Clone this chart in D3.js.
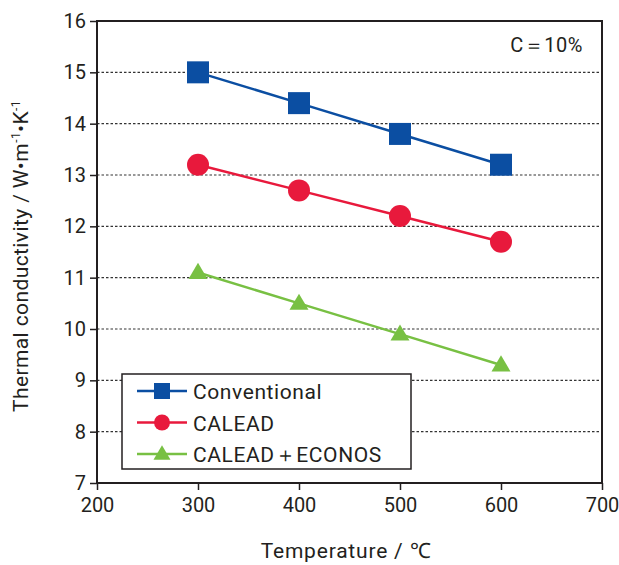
<!DOCTYPE html>
<html>
  <head>
    <style>
    body { margin: 0px; overflow: hidden; background: white; }
    text { font-family: Roboto, "Liberation Sans", sans-serif; fill: #231f20; }
    .tick text { font-size: 20px; }
    </style>
    <script src="https://d3js.org/d3.v7.min.js"></script>
  </head>
  <body>
    <svg width="619" height="565"></svg>
    <script>
        const temps = [300, 400, 500, 600];
        const conventional = [15.0, 14.4, 13.8, 13.2];
        const calead = [13.2, 12.7, 12.2, 11.7];
        const econos = [11.1, 10.5, 9.9, 9.3];
        const seriesNames = ['Conventional', 'CALEAD', 'CALEAD\uFF0BECONOS'];
        const xTicks = [200, 300, 400, 500, 600, 700];
        const yTicks = [7, 8, 9, 10, 11, 12, 13, 14, 15, 16];

        const svg = d3.select('svg');
        const margin = { top: 21, left: 97, right: 17, bottom: 82 };
        const innerWidth = 619 - margin.left - margin.right;
        const innerHeight = 565 - margin.top - margin.bottom;

        const g = svg.append('g')
            .attr('transform', `translate(${margin.left},${margin.top})`);

        const xScale = d3.scaleLinear().domain([200, 700]).range([0, innerWidth]);
        const yScale = d3.scaleLinear().domain([7, 16]).range([innerHeight, 0]);

        //dotted grid lines
        g.selectAll('.grid').data(yTicks.slice(1, -1))
            .enter().append('line')
                .attr('x1', 0).attr('x2', innerWidth)
                .attr('y1', d => yScale(d)).attr('y2', d => yScale(d))
                .attr('stroke', '#333').attr('stroke-width', 1.2)
                .attr('stroke-dasharray', '2.5,2');

        //frame
        g.append('rect')
            .attr('width', innerWidth).attr('height', innerHeight)
            .attr('fill', 'none').attr('stroke', '#231f20').attr('stroke-width', 2);

        //axes
        const xAxisG = g.append('g')
            .attr('transform', `translate(0,${innerHeight})`)
            .call(d3.axisBottom(xScale).tickValues(xTicks).tickSize(7).tickPadding(8));
        const yAxisG = g.append('g')
            .call(d3.axisLeft(yScale).tickValues(yTicks).tickSize(7).tickPadding(4));
        [xAxisG, yAxisG].forEach(a => {
            a.select('.domain').remove();
            a.selectAll('.tick line').attr('stroke', '#231f20').attr('stroke-width', 1.5);
            a.selectAll('.tick text').attr('fill', '#231f20');
        });

        const series = [
            { name: seriesNames[0], values: conventional, color: '#0b4ea2', shape: 'square' },
            { name: seriesNames[1], values: calead, color: '#e8193c', shape: 'circle' },
            { name: seriesNames[2], values: econos, color: '#78c043', shape: 'triangle' }
        ];

        function drawMarker(sel, shape, color, size) {
            if (shape === 'square') {
                sel.append('rect')
                    .attr('x', -size / 2).attr('y', -size / 2)
                    .attr('width', size).attr('height', size)
                    .attr('fill', color);
            } else if (shape === 'circle') {
                sel.append('circle').attr('r', size / 2).attr('fill', color);
            } else {
                const h = size * 0.85;
                sel.append('path')
                    .attr('d', `M0,${-h * 0.6}L${size / 2},${h * 0.4}L${-size / 2},${h * 0.4}Z`)
                    .attr('fill', color);
            }
        }

        const line = d3.line()
            .x((d, i) => xScale(temps[i]))
            .y(d => yScale(d));

        series.forEach(s => {
            g.append('path')
                .attr('d', line(s.values))
                .attr('fill', 'none')
                .attr('stroke', s.color)
                .attr('stroke-width', 2.5);
            s.values.forEach((v, i) => {
                const m = g.append('g')
                    .attr('transform', `translate(${xScale(temps[i])},${yScale(v)})`);
                drawMarker(m, s.shape, s.color, s.shape === 'triangle' ? 19 : 22);
            });
        });

        //legend
        const legend = svg.append('g').attr('transform', 'translate(122,374)');
        legend.append('rect')
            .attr('width', 289).attr('height', 95)
            .attr('fill', 'white').attr('stroke', '#231f20').attr('stroke-width', 1.5);
        series.forEach((s, i) => {
            const row = legend.append('g').attr('transform', `translate(0,${17 + i * 31.5})`);
            row.append('line')
                .attr('x1', 15).attr('x2', 65)
                .attr('stroke', s.color).attr('stroke-width', 2.5);
            const m = row.append('g').attr('transform', 'translate(40,0)');
            drawMarker(m, s.shape, s.color, s.shape === 'triangle' ? 17 : 16);
            row.append('text')
                .attr('x', 71).attr('y', 8)
                .attr('font-size', '21px')
                .attr('letter-spacing', '0.6px')
                .text(s.name);
        });

        //annotation
        svg.append('text')
            .attr('x', 583).attr('y', 52)
            .attr('text-anchor', 'end')
            .attr('font-size', '20px')
            .attr('letter-spacing', '0.5px')
            .text('C\uFF1D10%');

        //axis titles
        svg.append('text')
            .attr('x', 346).attr('y', 558)
            .attr('text-anchor', 'middle')
            .attr('font-size', '21px')
            .attr('letter-spacing', '0.8px')
            .text('Temperature / \u2103');

        const yt = svg.append('text')
            .attr('transform', 'translate(28,256) rotate(-90)')
            .attr('text-anchor', 'middle')
            .attr('font-size', '21px')
            .attr('letter-spacing', '0.4px');
        yt.append('tspan').text('Thermal conductivity / W\u2022m');
        yt.append('tspan').attr('font-size', '12px').attr('dy', -8).text('-1');
        yt.append('tspan').attr('dy', 8).text('\u2022K');
        yt.append('tspan').attr('font-size', '12px').attr('dy', -8).text('-1');
    </script>
  </body>
</html>
